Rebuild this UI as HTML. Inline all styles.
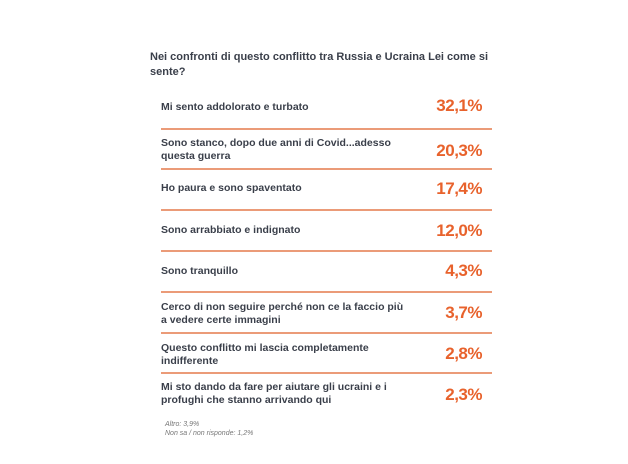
<!DOCTYPE html>
<html><head><meta charset="utf-8"><style>
body{margin:0;width:628px;height:464px;background:#fff;font-family:"Liberation Sans",sans-serif;position:relative;overflow:hidden}
.t{position:absolute;left:150px;top:50px;width:340px;font-size:11px;font-weight:bold;color:#3a3f4a;line-height:15px}
.r{position:absolute;left:161px;width:331px;height:40px}
.l{position:absolute;left:0;font-size:10.5px;font-weight:bold;color:#3a3f4a;line-height:13px;width:250px}
.p{position:absolute;right:10px;font-size:17px;font-weight:bold;color:#e8622c;letter-spacing:-0.5px}
.ln{position:absolute;left:161px;width:331px;height:2px;background:#eb9b78}
.f{position:absolute;left:165px;top:420px;font-size:7px;font-style:italic;color:#777;line-height:9px}
</style></head><body>
<div class="t">Nei confronti di questo conflitto tra Russia e Ucraina Lei come si sente?</div>

<div class="r" style="top:88px"><div class="l" style="top:13px">Mi sento addolorato e turbato</div><div class="p" style="top:8px">32,1%</div></div>
<div class="ln" style="top:128px"></div>
<div class="r" style="top:129px"><div class="l" style="top:8px">Sono stanco, dopo due anni di Covid...adesso questa guerra</div><div class="p" style="top:12px">20,3%</div></div>
<div class="ln" style="top:168px"></div>
<div class="r" style="top:169px"><div class="l" style="top:13px">Ho paura e sono spaventato</div><div class="p" style="top:10px">17,4%</div></div>
<div class="ln" style="top:209px"></div>
<div class="r" style="top:210px"><div class="l" style="top:14px">Sono arrabbiato e indignato</div><div class="p" style="top:11px">12,0%</div></div>
<div class="ln" style="top:250px"></div>
<div class="r" style="top:251px"><div class="l" style="top:14px">Sono tranquillo</div><div class="p" style="top:10px">4,3%</div></div>
<div class="ln" style="top:291px"></div>
<div class="r" style="top:292px"><div class="l" style="top:9px;width:270px">Cerco di non seguire perché non ce la faccio più<br>a vedere certe immagini</div><div class="p" style="top:11px">3,7%</div></div>
<div class="ln" style="top:332px"></div>
<div class="r" style="top:333px"><div class="l" style="top:9px;width:230px">Questo conflitto mi lascia completamente indifferente</div><div class="p" style="top:11px">2,8%</div></div>
<div class="ln" style="top:372px"></div>
<div class="r" style="top:373px"><div class="l" style="top:8px;width:250px">Mi sto dando da fare per aiutare gli ucraini e i profughi che stanno arrivando qui</div><div class="p" style="top:12px">2,3%</div></div>

<div class="f">Altro: 3,9%<br>Non sa / non risponde: 1,2%</div>
</body></html>
